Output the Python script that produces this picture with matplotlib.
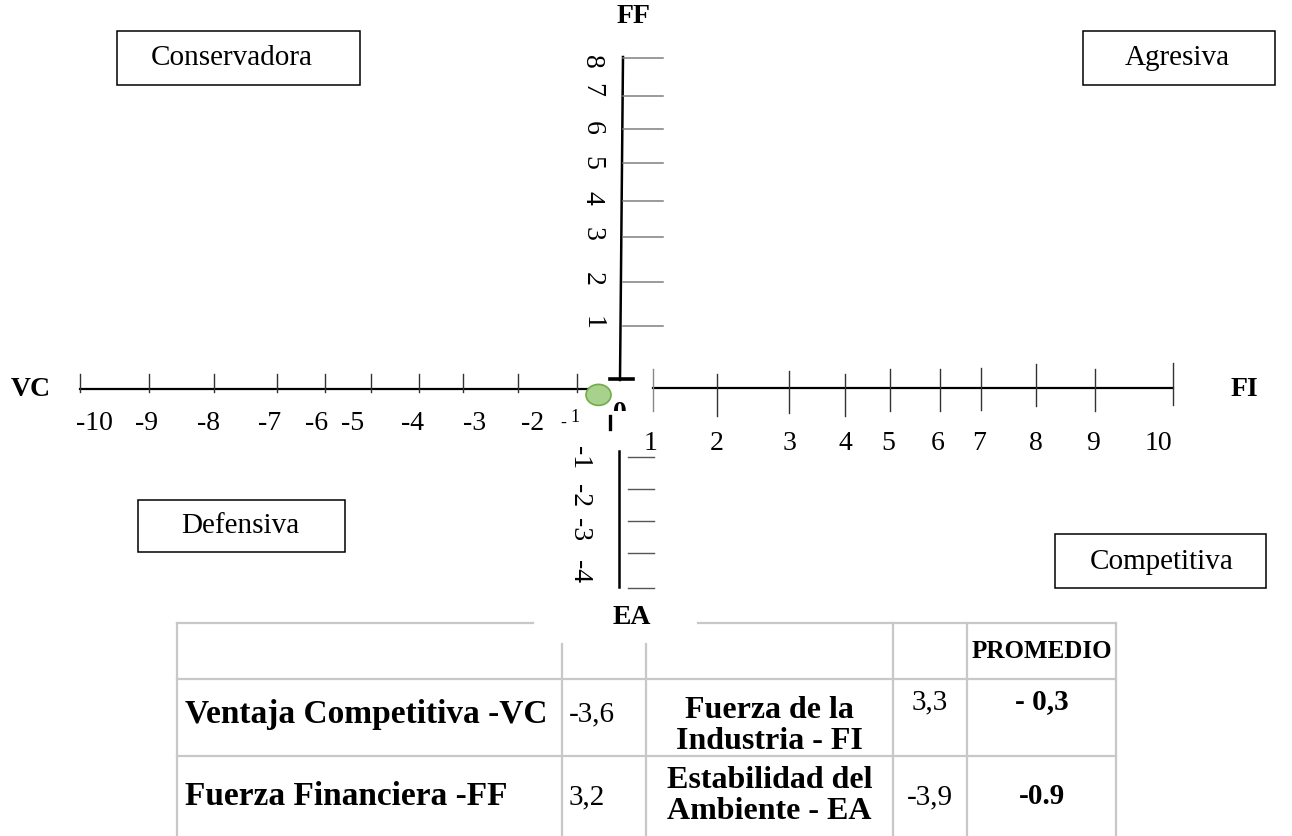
import numpy as np
import matplotlib.pyplot as plt
from matplotlib.patches import Rectangle, Ellipse

plt.rcParams["font.family"] = ["Liberation Serif", "DejaVu Serif"]

# ---- datos ----
vc_vals = [-10, -9, -8, -7, -6, -5, -4, -3, -2, -1]
fi_vals = [1, 2, 3, 4, 5, 6, 7, 8, 9, 10]
ff_vals = [8, 7, 6, 5, 4, 3, 2, 1]
ea_vals = [-1, -2, -3, -4]
punto = (-0.5, -0.1)  # posicion del circulo en la matriz

cuadrantes = ["Conservadora", "Agresiva", "Defensiva", "Competitiva"]
ejes = ["FF", "EA", "VC", "FI"]

factor_1 = ["Ventaja Competitiva -VC", "Fuerza Financiera -FF"]
valor_1 = ["-3,6", "3,2"]
factor_2 = ["Fuerza de la\nIndustria - FI", "Estabilidad del\nAmbiente - EA"]
valor_2 = ["3,3", "-3,9"]
promedio = ["- 0,3", "-0.9"]

# ---- disposicion (pixeles, dibujo hecho a mano) ----
vc_x = [80, 149, 214, 277, 325, 371, 419, 463, 518, 577]
vc_lx = [94, 147, 209, 270, 317, 353, 413, 475, 533, 575]
fi_x = [653, 717, 789, 845, 890, 940, 981, 1036, 1095, 1173]
fi_top = [370, 375, 372, 375, 370, 370, 369, 365, 370, 364]
fi_lx = [651, 717, 789, 845, 888, 938, 979, 1036, 1093, 1158]
ff_y = [59, 97, 130, 164, 202, 238, 283, 327]
ff_ly = [62, 90, 128, 163, 198, 234, 279, 323]
ea_y = [458, 490, 522, 554, 589]
ea_ly = [458, 496, 530, 572]
x0, y0 = 620, 389

cajas = [(117, 32, 360, 86, 232, 58), (1083, 32, 1275, 86, 1177, 58),
         (138, 501, 345, 553, 240, 526), (1055, 535, 1266, 589, 1162, 562)]
pos_ejes = [(634, 16), (632, 617), (31, 389), (1244, 390)]

fig = plt.figure(figsize=(12.92, 8.37), dpi=100)
ax = fig.add_axes([0, 0, 1, 1])
ax.set_xlim(0, 1292)
ax.set_ylim(837, 0)
ax.axis("off")

tick_fs = 20

# eje horizontal izquierdo (VC)
ax.plot([vc_x[0], 600], [390, 390], color="black", lw=1.6, zorder=2)
for v, x, lx in zip(vc_vals, vc_x, vc_lx):
    ax.plot([x, x], [375, 393], color="#333333", lw=1.0, zorder=2)
    if v == -1:
        ax.text(lx, 417, "1", fontsize=13, ha="center", va="center")
        ax.text(563, 423, "-", fontsize=13, ha="center", va="center")
    else:
        ax.text(lx, 423, str(v), fontsize=tick_fs, ha="center", va="center")

# eje horizontal derecho (FI)
ax.plot([fi_x[0], fi_x[-1]], [y0, y0], color="black", lw=1.6, zorder=2)
for v, x, t, lx in zip(fi_vals, fi_x, fi_top, fi_lx):
    c = "#888888" if v == 1 else "#333333"
    ax.plot([x, x], [t, t + 42], color=c, lw=1.0, zorder=2)
    ax.text(lx, 444, str(v), fontsize=tick_fs, ha="center", va="center")

# eje vertical superior (FF)
ax.plot([623, 620], [58, 381], color="black", lw=1.8)
for v, y, ly in zip(ff_vals, ff_y, ff_ly):
    ax.plot([623, 663], [y, y], color="#7f7f7f", lw=1.1)
    ax.text(592, ly, str(v), fontsize=tick_fs, ha="center", va="center", rotation=270)
ax.plot([610, 633], [380, 380], color="black", lw=2.6)

# eje vertical inferior (EA)
ax.plot([619, 619], [452, 588], color="black", lw=1.8)
for y in ea_y:
    ax.plot([628, 654], [y, y], color="#555555", lw=1.0)
for v, ly in zip(ea_vals, ea_ly):
    ax.text(580, ly, str(v), fontsize=tick_fs, ha="center", va="center", rotation=270)

# cero parcialmente tapado
ax.text(620, 413, "0", fontsize=20, fontweight="bold", ha="center", va="center", zorder=3)
ax.add_patch(Rectangle((604, 412), 36, 24, facecolor="white", edgecolor="none", zorder=4))
ax.plot([610, 610], [417, 430], color="black", lw=2.4, zorder=5)

# punto
px = np.interp(punto[0], vc_vals + [0] + fi_vals, vc_x + [x0] + fi_x)
py = np.interp(punto[1], [-1, 0], [ea_y[0], y0])
ax.add_patch(Ellipse((px, py), 25, 21, facecolor="#A9D18E", edgecolor="#70AD47",
                     lw=1.2, zorder=6))

# etiquetas de ejes
for t, (x, y) in zip(ejes, pos_ejes):
    ax.text(x, y, t, fontsize=20, fontweight="bold", ha="center", va="center")

# cuadros de estrategia
for t, (xa, ya, xb, yb, tx, ty) in zip(cuadrantes, cajas):
    ax.add_patch(Rectangle((xa, ya), xb - xa, yb - ya, facecolor="white",
                           edgecolor="black", lw=1.1))
    ax.text(tx, ty, t, fontsize=21, ha="center", va="center")

# tabla
gris = "#C8C8C8"
tl, tr = 177, 1116
cols = [562, 646, 893, 967]
rows = [624, 680, 757]
ax.plot([tl, 533], [rows[0], rows[0]], color=gris, lw=1.6)
ax.plot([698, tr], [rows[0], rows[0]], color=gris, lw=1.6)
for r in rows[1:]:
    ax.plot([tl, tr], [r, r], color=gris, lw=1.6)
ax.plot([tl, tl], [rows[0], 837], color=gris, lw=1.6)
ax.plot([tr, tr], [rows[0], 837], color=gris, lw=1.6)
for c in cols[:2]:
    ax.plot([c, c], [645, 837], color=gris, lw=1.6)
for c in cols[2:]:
    ax.plot([c, c], [rows[0], 837], color=gris, lw=1.6)

ax.text((cols[3] + tr) / 2, 652, "PROMEDIO", fontsize=18, fontweight="bold",
        ha="center", va="center")
row_y = [714, 797]
row_y2 = [726, 796]
row_v = [702, 797]
for i in range(2):
    ax.text(tl + 8, row_y[i], factor_1[i], fontsize=24, fontweight="bold",
            ha="left", va="center")
    ax.text(cols[0] + 7, row_y[i], valor_1[i], fontsize=21, ha="left", va="center")
    ax.text((cols[1] + cols[2]) / 2, row_y2[i], factor_2[i], fontsize=23,
            fontweight="bold", ha="center", va="center", linespacing=1.05)
    ax.text((cols[2] + cols[3]) / 2, row_v[i], valor_2[i], fontsize=21,
            ha="center", va="center")
    ax.text((cols[3] + tr) / 2, row_v[i], promedio[i], fontsize=21, fontweight="bold",
            ha="center", va="center")

fig.savefig("out.png", dpi=100)
